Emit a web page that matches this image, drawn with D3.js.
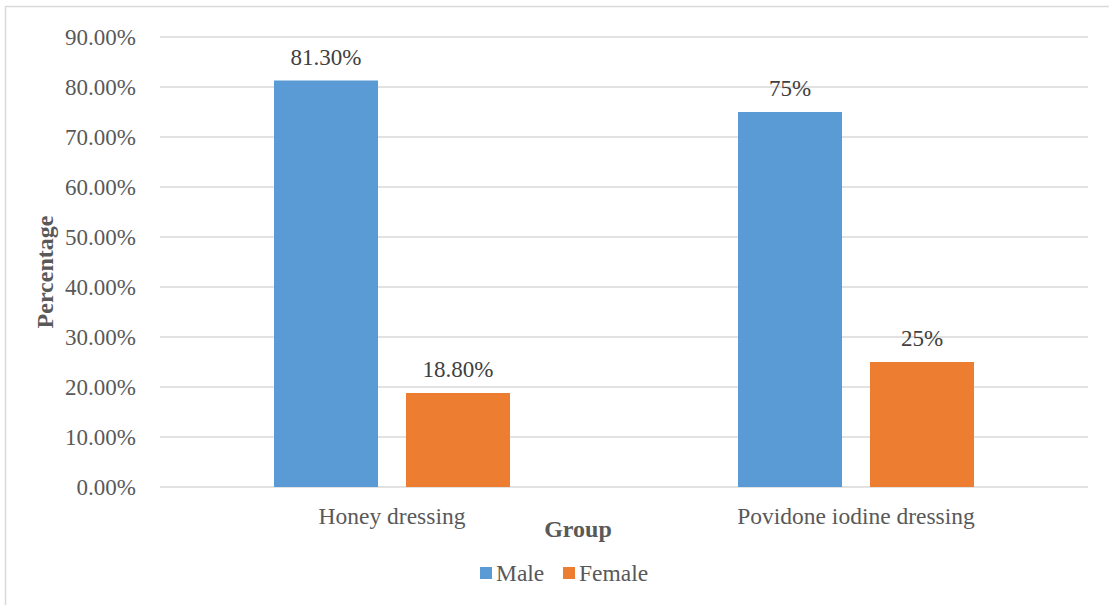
<!DOCTYPE html>
<html>
<head>
<meta charset="utf-8">
<script src="https://cdn.jsdelivr.net/npm/d3@7"></script>
<style>
  html, body { margin: 0; padding: 0; background: #fff; }
  svg { display: block; }
  svg text { font-family: "Liberation Serif", "Times New Roman", serif !important; }
</style>
</head>
<body>
<svg id="chart" width="1109" height="605"></svg>
<script>
// Sex distribution per dressing group
const groups = ["Honey dressing", "Povidone iodine dressing"];
const seriesNames = ["Male", "Female"];
const maleValues = [81.3, 75];
const femaleValues = [18.8, 25];
const valueLabels = [["81.30%", "18.80%"], ["75%", "25%"]];
const yTicks = [0, 10, 20, 30, 40, 50, 60, 70, 80, 90];
const colors = ["#5B9BD5", "#ED7D31"];

const svg = d3.select("#chart");
const textColor = "#595959";
const gridColor = "#d9d9d9";

// chart frame
svg.append("rect")
  .attr("x", 5.5).attr("y", 6.5)
  .attr("width", 1120).attr("height", 620)
  .attr("fill", "none").attr("stroke", gridColor).attr("stroke-width", 1.5);

const plot = { left: 160, right: 1088, top: 37, bottom: 487 };
const groupWidth = 236;

const x0 = d3.scaleBand().domain(groups).range([plot.left, plot.right]).padding(0);
const x1 = d3.scaleBand().domain(seriesNames).range([0, groupWidth]).paddingInner(28 / 132).paddingOuter(0);
const y = d3.scaleLinear().domain([0, 90]).range([plot.bottom, plot.top]);

// gridlines
svg.append("g")
  .selectAll("line").data(yTicks).join("line")
  .attr("x1", plot.left).attr("x2", plot.right)
  .attr("y1", d => y(d)).attr("y2", d => y(d))
  .attr("stroke", gridColor).attr("stroke-width", 1.5);

// y tick labels
const yAxis = d3.axisLeft(y).tickValues(yTicks).tickFormat(d => d3.format(".2f")(d) + "%").tickSize(0).tickPadding(24);
const yg = svg.append("g").attr("transform", `translate(${plot.left},0)`).call(yAxis);
yg.select(".domain").remove();
yg.selectAll("text").attr("fill", textColor).attr("font-size", 23);

// bars
const rows = groups.map((g, i) => ({ group: g, values: [maleValues[i], femaleValues[i]], labels: valueLabels[i] }));
const gGroups = svg.append("g").selectAll("g").data(rows).join("g")
  .attr("transform", d => `translate(${x0(d.group) + (x0.bandwidth() - groupWidth) / 2},0)`);

gGroups.selectAll("rect").data(d => d.values.map((v, j) => ({ s: seriesNames[j], v, j }))).join("rect")
  .attr("x", d => x1(d.s))
  .attr("width", x1.bandwidth())
  .attr("y", d => y(d.v))
  .attr("height", d => y(0) - y(d.v))
  .attr("fill", d => colors[d.j]);

gGroups.selectAll("text").data(d => d.values.map((v, j) => ({ s: seriesNames[j], v, label: d.labels[j] }))).join("text")
  .attr("x", d => x1(d.s) + x1.bandwidth() / 2)
  .attr("y", d => y(d.v) - 16)
  .attr("text-anchor", "middle")
  .attr("fill", "#404040")
  .attr("font-size", 23)
  .text(d => d.label);

// x category labels
const xAxis = d3.axisBottom(x0).tickSize(0).tickPadding(20);
const xg = svg.append("g").attr("transform", `translate(0,${plot.bottom})`).call(xAxis);
xg.select(".domain").remove();
xg.selectAll("text").attr("fill", textColor).attr("font-size", 23.5);

// axis titles
svg.append("text")
  .attr("x", 578).attr("y", 537)
  .attr("text-anchor", "middle").attr("font-weight", "bold")
  .attr("font-size", 24).attr("fill", textColor)
  .text("Group");

svg.append("text")
  .attr("transform", "translate(53,272) rotate(-90)")
  .attr("text-anchor", "middle").attr("font-weight", "bold")
  .attr("font-size", 24).attr("fill", textColor)
  .text("Percentage");

// legend
const legend = svg.append("g").attr("transform", "translate(480,573)");
const legendItems = [{ name: "Male", x: 0 }, { name: "Female", x: 83 }];
legendItems.forEach((it, i) => {
  legend.append("rect").attr("x", it.x).attr("y", -6).attr("width", 12).attr("height", 12).attr("fill", colors[i]);
  legend.append("text").attr("x", it.x + 16).attr("y", 8)
    .attr("font-size", 23.5).attr("fill", textColor).text(it.name);
});
</script>
</body>
</html>
